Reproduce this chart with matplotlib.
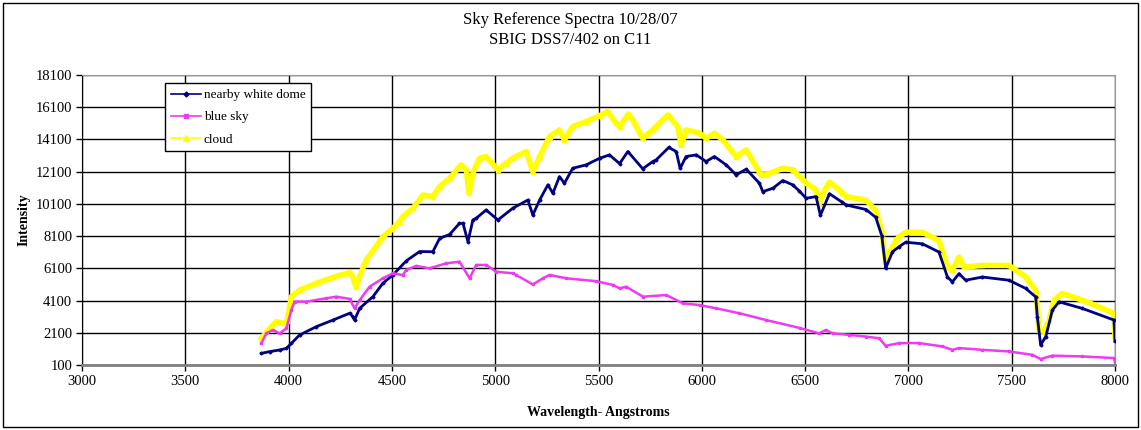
import matplotlib
matplotlib.use("Agg")
import matplotlib.pyplot as plt
from matplotlib.lines import Line2D
from matplotlib.patches import Rectangle

plt.rcParams['font.family'] = ['Liberation Serif', 'DejaVu Serif']

# wavelength (Angstrom) / intensity
dome_wl = [3868, 3908, 3956, 3989, 4013, 4053, 4134, 4215, 4295, 4311, 4319, 4344,
           4408, 4456, 4505, 4569, 4634, 4698, 4731, 4779, 4827, 4844, 4868, 4892,
           4908, 4956, 5013, 5085, 5158, 5182, 5215, 5255, 5279, 5311, 5335, 5375,
           5440, 5505, 5553, 5602, 5642, 5714, 5763, 5779, 5840, 5876, 5895, 5924,
           5973, 6021, 6061, 6118, 6166, 6215, 6279, 6295, 6344, 6392, 6440, 6471,
           6505, 6553, 6574, 6618, 6681, 6699, 6795, 6842, 6871, 6890, 6923, 6956,
           6987, 7068, 7148, 7189, 7213, 7245, 7277, 7358, 7487, 7568, 7616, 7624,
           7640, 7665, 7697, 7729, 7842, 7995, 8000]
dome_int = [820, 930, 1030, 1130, 1440, 1960, 2480, 2890, 3310, 3100, 2890, 3620,
            4340, 5170, 5690, 6560, 7140, 7130, 7960, 8200, 8890, 8890, 7750, 9100,
            9210, 9720, 9100, 9830, 10340, 9410, 10340, 11280, 10760, 11790, 11380, 12310,
            12520, 12930, 13140, 12600, 13350, 12280, 12730, 12830, 13600, 13350, 12300, 13040,
            13140, 12730, 13040, 12520, 11900, 12250, 11380, 10860, 11070, 11550, 11280, 10910,
            10450, 10550, 9390, 10730, 10190, 10030, 9750, 9260, 8130, 6100, 7130, 7450,
            7720, 7620, 7110, 5560, 5260, 5770, 5360, 5560, 5360, 4850, 4330, 3100,
            1350, 1860, 3510, 4020, 3610, 2890, 1560]

sky_wl = [3868, 3892, 3924, 3956, 3989, 4013, 4029, 4085, 4182, 4231, 4295, 4319,
          4344, 4392, 4456, 4505, 4553, 4569, 4618, 4682, 4763, 4827, 4876, 4908,
          4956, 5005, 5085, 5102, 5182, 5231, 5263, 5344, 5489, 5569, 5602, 5634,
          5715, 5828, 5908, 5989, 6069, 6182, 6311, 6473, 6568, 6600, 6634, 6713,
          6795, 6858, 6890, 6955, 7052, 7165, 7213, 7245, 7358, 7487, 7600, 7640,
          7697, 7842, 7995, 8000]
sky_int = [1440, 2060, 2270, 2060, 2370, 3510, 4030, 4030, 4240, 4340, 4200, 3620,
           4130, 4960, 5480, 5790, 5680, 6000, 6250, 6100, 6410, 6510, 5480, 6310,
           6310, 5890, 5790, 5680, 5100, 5480, 5690, 5480, 5300, 5070, 4860, 4960,
           4340, 4440, 3930, 3820, 3620, 3310, 2890, 2400, 2060, 2270, 2060, 1970,
           1860, 1760, 1290, 1460, 1460, 1250, 1040, 1150, 1040, 940, 730, 470,
           680, 630, 530, 300]

cloud_wl = [3868, 3908, 3940, 3973, 3992, 4005, 4013, 4053, 4134, 4215, 4295, 4310,
            4327, 4343, 4375, 4420, 4456, 4500, 4537, 4553, 4602, 4650, 4698, 4731,
            4779, 4835, 4860, 4873, 4892, 4924, 4956, 5013, 5050, 5085, 5150, 5182,
            5215, 5263, 5311, 5335, 5375, 5440, 5505, 5545, 5585, 5602, 5645, 5666,
            5714, 5763, 5779, 5836, 5884, 5900, 5924, 5989, 6021, 6061, 6102, 6166,
            6215, 6287, 6311, 6392, 6440, 6471, 6505, 6553, 6569, 6584, 6618, 6681,
            6699, 6795, 6842, 6871, 6889, 6906, 6924, 6939, 6956, 6987, 7068, 7148,
            7189, 7213, 7245, 7269, 7358, 7487, 7568, 7616, 7624, 7632, 7656, 7681,
            7705, 7745, 7842, 7923, 7995, 8000]
cloud_int = [1755, 2375, 2790, 2685, 2800, 3720, 4340, 4750, 5170, 5540, 5830, 5580,
             4920, 5580, 6610, 7400, 8060, 8530, 9000, 9300, 9830, 10650, 10550, 11170,
             11690, 12520, 12210, 10760, 12000, 12930, 13040, 12210, 12600, 12930, 13350, 12100,
             13040, 14280, 14690, 14070, 14900, 15210, 15570, 15830, 15110, 14900, 15680, 15310,
             14170, 14690, 14900, 15620, 14900, 13760, 14690, 14490, 14170, 14490, 14070, 13040,
             13450, 11900, 11900, 12310, 12210, 11830, 11400, 10970, 10110, 10700, 11450, 10800,
             10550, 10330, 9700, 8450, 6600, 7000, 7450, 7820, 8060, 8340, 8340, 7820,
             6180, 5980, 6800, 6180, 6280, 6280, 5560, 4740, 3710, 2280, 2170, 2890,
             4120, 4540, 4120, 3710, 3300, 1860]

x_ticks = list(range(3000, 8001, 500))
y_ticks = list(range(100, 18101, 2000))

navy = '#000080'
pink = '#EE3BEE'
yellow = '#FFFF00'

fig = plt.figure(figsize=(11.41, 4.30), dpi=100)
ax = fig.add_axes([0.0719, 0.1512, 0.9053, 0.6744])

ax.plot(cloud_wl, cloud_int, color=yellow, lw=4.0, marker='^', ms=3, zorder=2)
ax.plot(dome_wl, dome_int, color=navy, lw=2.0, marker='D', ms=1.5, zorder=3)
ax.plot(sky_wl, sky_int, color=pink, lw=1.8, marker='s', ms=1.5, zorder=3)

ax.set_xlim(3000, 8000)
ax.set_ylim(100, 18100)
ax.set_xticks(x_ticks)
ax.set_yticks(y_ticks)
ax.tick_params(labelsize=10.5, length=4, width=1, color='black', pad=3)
ax.grid(True, color='black', lw=1)
ax.set_axisbelow(True)
for side in ('top', 'right'):
    ax.spines[side].set_color('#999999')
ax.spines['left'].set_color('black')
ax.spines['bottom'].set_color('#808080')
ax.spines['bottom'].set_linewidth(2)

ax.set_xlabel('Wavelength- Angstroms', fontsize=10, fontweight='bold', labelpad=13)
ax.set_ylabel('Intensity', fontsize=10, fontweight='bold', labelpad=4)

fig.text(0.5, 0.953, 'Sky Reference Spectra 10/28/07', ha='center', va='center', fontsize=12)
fig.text(0.5, 0.907, 'SBIG DSS7/402 on C11', ha='center', va='center', fontsize=12)

handles = [
    Line2D([], [], color=navy, lw=1.2, marker='D', ms=2.5),
    Line2D([], [], color=pink, lw=1.2, marker='s', ms=2.5),
    Line2D([], [], color=yellow, lw=1.2, marker='^', ms=4),
]
leg = ax.legend(handles, ['nearby white dome', 'blue sky', 'cloud'],
                loc='upper left', bbox_to_anchor=(0.080, 0.972), borderaxespad=0,
                fontsize=9.5, frameon=True, fancybox=False, framealpha=1,
                edgecolor='black', handlelength=2.3, handletextpad=0.2,
                labelspacing=0.75, borderpad=0.45, numpoints=1)
leg.get_frame().set_linewidth(1)

fig.patches.append(Rectangle((0.003, 0.008), 0.994, 0.984, transform=fig.transFigure,
                             fill=False, edgecolor='black', lw=1))

fig.savefig('out.png', dpi=100)
